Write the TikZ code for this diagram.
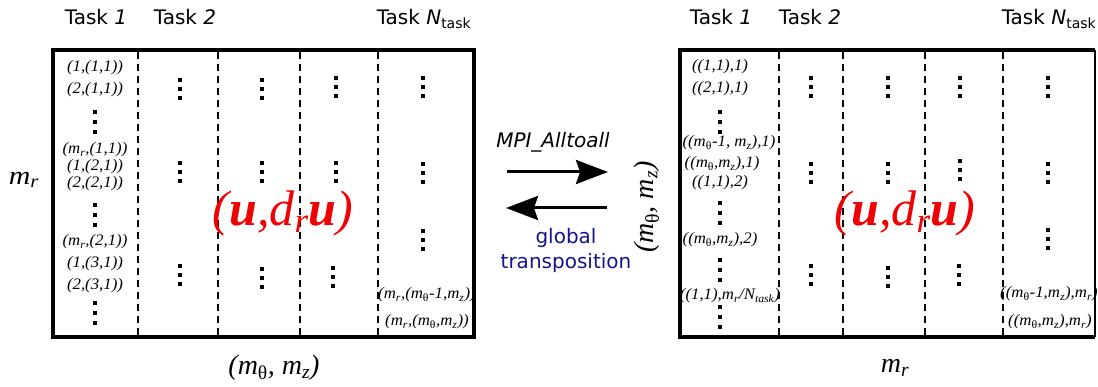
\documentclass[tikz,border=0pt]{standalone}
\usepackage{fontspec}
\setmainfont{DejaVu Sans}
\newfontfamily\tms{Liberation Serif}
\usetikzlibrary{arrows.meta}
\definecolor{navyc}{RGB}{20,20,140}
\definecolor{redc}{RGB}{240,0,0}
\newcommand\vdt[3]{\foreach \k in {-1,0,1}{\fill ({#1-1.8},{#2+\k*#3-1.8}) rectangle ++(3.6,3.6);}}
\newcommand\ent[1]{\scalebox{1.05}[1]{\tms\itshape\fontsize{16}{16}\selectfont #1}}
\newcommand\sbt[1]{\textsubscript{#1}}
\newcommand\thup{{\upshape θ}}
\begin{document}
\begin{tikzpicture}[x=1pt,y=-1pt,
  tasklbl/.style={font=\fontsize{20}{20}\selectfont, anchor=base, inner sep=0},
  entry/.style={inner sep=0},
  bigred/.style={text=redc, inner sep=0, font=\tms\itshape\fontsize{50}{50}\selectfont},
  axlbl/.style={inner sep=0, font=\tms\itshape\fontsize{28}{28}\selectfont},
  frame/.style={line width=3.5pt},
  divider/.style={line width=2.5pt, dash pattern=on 7pt off 5pt},
  bigarrow/.style={line width=3pt, -{Stealth[length=32pt,width=24pt,inset=4pt]}}]
\useasboundingbox (0,0) rectangle (1098,387);

% ---------- left block ----------
\draw[frame] (53,50) rectangle (474,337);
\foreach \x in {138,218,300,378} \draw[divider] (\x,52) -- (\x,336);

\node[tasklbl] (lt1) at (96,25) {Task \textit{1}};
\node[tasklbl] (lt2) at (185,25) {Task \textit{2}};
\node[tasklbl] (ltn) at (424,25) {Task \textit{N}\textsubscript{task}};

\node[entry] (l1) at (95,68) {\ent{(1,(1,1))}};
\node[entry] (l2) at (95,90) {\ent{(2,(1,1))}};
\vdt{95}{122}{10}
\node[entry] (l3) at (95,150) {\ent{(m\sbt{r},(1,1))}};
\node[entry] (l4) at (95,167) {\ent{(1,(2,1))}};
\node[entry] (l5) at (95,184) {\ent{(2,(2,1))}};
\vdt{95}{215}{10}
\node[entry] (l6) at (95,242) {\ent{(m\sbt{r},(2,1))}};
\node[entry] (l7) at (95,264) {\ent{(1,(3,1))}};
\node[entry] (l8) at (95,286) {\ent{(2,(3,1))}};
\vdt{95}{313}{10}

\vdt{180}{89}{9}\vdt{180}{172}{9}\vdt{180}{275}{9}
\vdt{262}{89}{9}\vdt{262}{172}{9}\vdt{262}{278}{9}
\vdt{336}{87}{9}\vdt{336}{172}{9}\vdt{333}{277}{9}
\vdt{423}{87}{9}\vdt{423}{173}{9}\vdt{423}{240}{9}
\node[entry] (l9) at (427,295) {\ent{(m\sbt{r},(m\sbt{\thup}-1,m\sbt{z}))}};
\node[entry] (l10) at (427,322) {\ent{(m\sbt{r},(m\sbt{\thup},m\sbt{z}))}};

\node[bigred] (lred) at (283,213) {(\textbf{u},d\sbt{r}\textbf{u})};

\node[axlbl, font=\tms\itshape\fontsize{26}{26}\selectfont] (lmr) at (24,180) {\scalebox{1.15}[1]{m\sbt{r}}};
\node[axlbl] (lmtz) at (274,368) {(m\sbt{\thup}, m\sbt{z})};

% ---------- middle ----------
\coordinate (a1s) at (507,172);
\coordinate (a1e) at (608,172);
\coordinate (a2s) at (607,208);
\coordinate (a2e) at (506,208);
\draw[bigarrow] (a1s) -- (a1e);
\draw[bigarrow] (a2s) -- (a2e);
\node[inner sep=0, font=\fontsize{20}{20}\selectfont\itshape] (mpi) at (553,142) {MPI\_Alltoall};
\node[inner sep=0, font=\fontsize{20}{20}\selectfont, text=navyc, anchor=base] (glob) at (566,244) {global};
\node[inner sep=0, font=\fontsize{20}{20}\selectfont, text=navyc, anchor=base] (trans) at (566,269) {transposition};
\node[axlbl, rotate=90] (rmtz) at (647,207) {(m\sbt{\thup}, m\sbt{z})};

% ---------- right block ----------
\draw[line width=3.5pt] (1095,50) -- (680,50) -- (680,337) -- (1095,337);
\draw[line width=1.5pt] (1095,50) -- (1095,337);
\foreach \x in {779,843,925,1003} \draw[divider] (\x,52) -- (\x,336);

\node[tasklbl] (rt1) at (721,25) {Task \textit{1}};
\node[tasklbl] (rt2) at (810,25) {Task \textit{2}};
\node[tasklbl] (rtn) at (1049,25) {Task \textit{N}\textsubscript{task}};

\node[entry] (r1) at (720,67) {\ent{((1,1),1)}};
\node[entry] (r2) at (720,89) {\ent{((2,1),1)}};
\vdt{720}{122}{10}
\node[entry] (r3) at (729,143) {\ent{((m\sbt{\thup}-1, m\sbt{z}),1)}};
\node[entry] (r4) at (722,164) {\ent{((m\sbt{\thup},m\sbt{z}),1)}};
\node[entry] (r5) at (720,183) {\ent{((1,1),2)}};
\vdt{720}{213}{10}
\node[entry] (r6) at (720,240) {\ent{((m\sbt{\thup},m\sbt{z}),2)}};
\vdt{720}{270}{10}
\node[entry] (r7) at (730,296) {\ent{((1,1),m\sbt{r}/N\sbt{task})}};
\vdt{720}{317}{10}

\vdt{811}{87}{9}\vdt{811}{173}{9}\vdt{811}{275}{9}
\vdt{888}{87}{9}\vdt{888}{173}{9}\vdt{888}{277}{9}
\vdt{960}{87}{9}\vdt{960}{170}{9}\vdt{959}{275}{9}
\vdt{1048}{87}{9}\vdt{1048}{173}{9}\vdt{1048}{239}{9}
\node[entry] (r8) at (1049,294) {\ent{((m\sbt{\thup}-1,m\sbt{z}),m\sbt{r})}};
\node[entry] (r9) at (1050,322) {\ent{((m\sbt{\thup},m\sbt{z}),m\sbt{r})}};

\node[bigred] (rred) at (905,213) {(\textbf{u},d\sbt{r}\textbf{u})};
\node[axlbl] (rmr) at (895,368) {m\sbt{r}};
\end{tikzpicture}
\end{document}
